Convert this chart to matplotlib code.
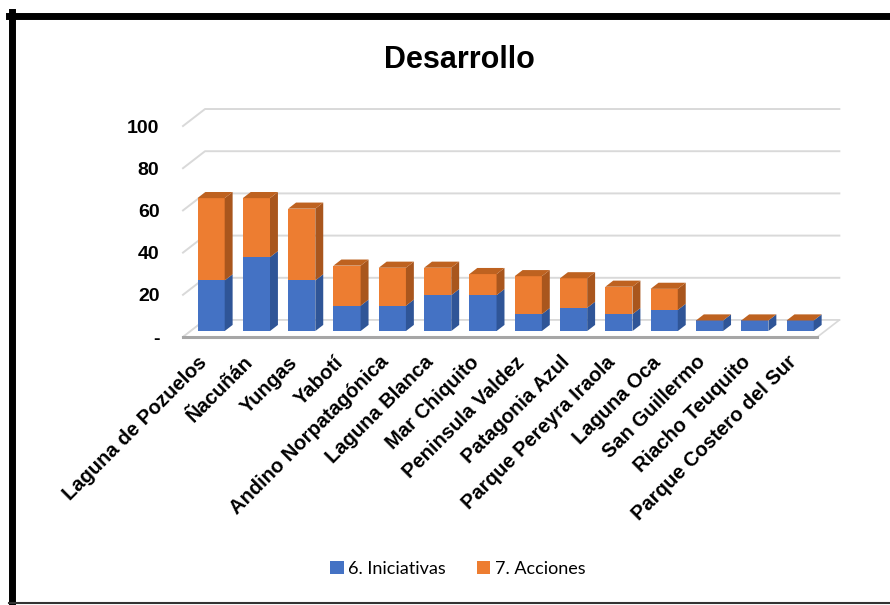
import matplotlib
matplotlib.use("Agg")
import matplotlib.pyplot as plt
from matplotlib.patches import Polygon, Patch
from matplotlib.lines import Line2D

plt.rcParams["font.family"] = ["Liberation Sans", "DejaVu Sans"]

# datos
parques = ["Laguna de Pozuelos", "Ñacuñán", "Yungas", "Yabotí",
           "Andino Norpatagónica", "Laguna Blanca", "Mar Chiquito",
           "Peninsula Valdez", "Patagonia Azul", "Parque Pereyra Iraola",
           "Laguna Oca", "San Guillermo", "Riacho Teuquito",
           "Parque Costero del Sur"]
iniciativas = [24, 35, 24, 12, 12, 17, 17, 8, 11, 8, 10, 5, 5, 5]
acciones = [39, 28, 34, 19, 18, 13, 10, 18, 14, 13, 10, 0, 0, 0]
yticks = [0, 20, 40, 60, 80, 100]
ytick_labels = ["-", "20", "40", "60", "80", "100"]

AZUL, AZUL_LADO = "#4472C4", "#2F5597"
NARANJA, NARANJA_LADO, NARANJA_TOPE = "#ED7D31", "#A9561D", "#BE6220"

fig = plt.figure(figsize=(8.9, 6.05), dpi=100)
ax = fig.add_axes([183 / 890, 268 / 605, 657 / 890, 236.3 / 605])
x0, x1 = -0.45, 14.05
ax.set_xlim(x0, x1)
ax.set_ylim(0, 112)

# profundidad del "3D" (en unidades de datos)
ddx, ddy = 0.486, 8.06
f_front, f_back = 0.35, 0.71
ancho = 0.6

# pared del fondo: lineas de grilla
x_fin = 13.55 + ddx
for v in yticks:
    ax.plot([x0, x0 + ddx, x_fin], [v, v + ddy, v + ddy],
            color="#d9d9d9", lw=1.4, zorder=1, clip_on=False)

# piso
ax.add_patch(Polygon([(x0, 0), (13.55, 0), (x_fin, ddy), (x0 + ddx, ddy)],
                     closed=True, facecolor="white", edgecolor="#d9d9d9",
                     lw=1.2, zorder=1))
ax.plot([x0, 13.55], [0, 0], color="#a6a6a6", lw=2.2, zorder=2,
        clip_on=False)

# barras
ox, oy = f_front * ddx, f_front * ddy
bx, by = (f_back - f_front) * ddx, (f_back - f_front) * ddy
pos = [i + ox for i in range(len(parques))]
base = [oy] * len(parques)
ax.bar(pos, iniciativas, width=ancho, bottom=base, color=AZUL, zorder=3)
ax.bar(pos, acciones, width=ancho, bottom=[b + v for b, v in zip(base, iniciativas)],
       color=NARANJA, zorder=3)
for p, a, b in zip(pos, iniciativas, acciones):
    xr = p + ancho / 2
    xl = p - ancho / 2
    # lado azul
    ax.add_patch(Polygon([(xr, oy), (xr + bx, oy + by), (xr + bx, oy + a + by),
                          (xr, oy + a)], facecolor=AZUL_LADO, lw=0, zorder=3))
    # lado naranja
    t = oy + a + b
    ax.add_patch(Polygon([(xr, oy + a), (xr + bx, oy + a + by), (xr + bx, t + by),
                          (xr, t)], facecolor=NARANJA_LADO, lw=0, zorder=3))
    # tope
    ax.add_patch(Polygon([(xl, t), (xr, t), (xr + bx, t + by), (xl + bx, t + by)],
                         facecolor=NARANJA_TOPE, lw=0, zorder=3))

for s in ax.spines.values():
    s.set_visible(False)
ax.set_yticks(yticks)
ax.set_yticklabels(ytick_labels, fontsize=14, fontweight="bold")
ax.tick_params(axis="y", length=0, pad=17)
ax.set_xticks([i + 0.02 for i in range(len(parques))])
ax.set_xticklabels(parques, rotation=45, ha="right", va="center",
                   rotation_mode="anchor", fontsize=14.5, fontweight="bold")
ax.tick_params(axis="x", length=0, pad=16)

fig.text(459 / 890, 1 - 60 / 605, "Desarrollo", ha="center", va="center",
         fontsize=22, fontweight="bold")

handles = [Patch(facecolor=AZUL, label="6. Iniciativas"),
           Patch(facecolor=NARANJA, label="7. Acciones")]
fig.legend(handles=handles, loc="center", bbox_to_anchor=(458 / 890, 1 - 569 / 605),
           ncol=2, frameon=False, handlelength=0.75, handleheight=0.75,
           handletextpad=0.25, columnspacing=1.7,
           prop={"family": "Lato", "size": 13})

# marco negro
fig.add_artist(Line2D([11.5 / 890, 11.5 / 890], [0, 1 - 12 / 605], color="black",
                      lw=5, transform=fig.transFigure))
fig.add_artist(Line2D([9 / 890, 1], [1 - 15.5 / 605, 1 - 15.5 / 605], color="black",
                      lw=5, transform=fig.transFigure))
fig.add_artist(Line2D([9 / 890, 1], [2.5 / 605, 2.5 / 605], color="#333333",
                      lw=1.5, transform=fig.transFigure))

fig.savefig("out.png", dpi=100)
